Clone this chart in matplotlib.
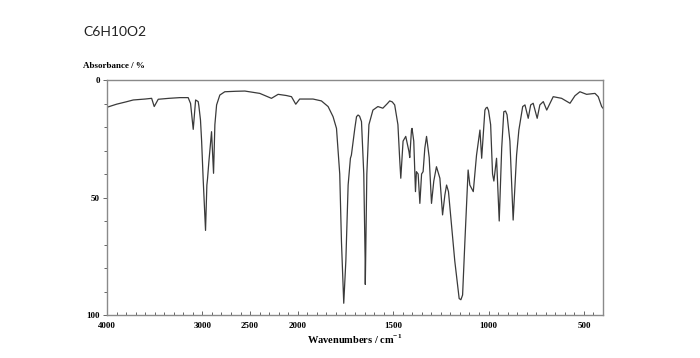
import numpy as np
import matplotlib
matplotlib.use('Agg')
import matplotlib.pyplot as plt
from matplotlib.ticker import FixedLocator, NullFormatter

title = 'C6H10O2'

# spectrum (wavenumber in cm-1, value in %)
wavenumber = [4000, 3900, 3800, 3725, 3600, 3532, 3505, 3463, 3350, 3236,
              3149, 3124, 3096, 3071, 3044, 3037, 3020, 3008, 2992, 2967,
              2953, 2946, 2932, 2904, 2883, 2869, 2851, 2817, 2765, 2650,
              2555, 2398, 2276, 2206, 2120, 2066, 2021, 1990, 1920, 1876,
              1841, 1815, 1797, 1780, 1771, 1759, 1748, 1736, 1724, 1719,
              1701, 1692, 1684, 1676, 1666, 1654, 1647, 1646, 1638, 1627,
              1606, 1580, 1554, 1530, 1518, 1505, 1492, 1475, 1466, 1460,
              1448, 1434, 1417, 1413, 1404, 1401, 1392, 1383, 1378, 1369,
              1360, 1351, 1343, 1334, 1325, 1311, 1299, 1287, 1273, 1255,
              1241, 1229, 1220, 1210, 1194, 1177, 1160, 1154, 1145, 1136,
              1124, 1107, 1098, 1080, 1063, 1045, 1036, 1019, 1013, 1007,
              1000, 989, 979, 972, 958, 944, 931, 920, 911, 903,
              888, 871, 853, 841, 821, 809, 792, 779, 766, 745,
              731, 713, 695, 661, 617, 573, 547, 521, 486, 442,
              425, 407, 400]
absorbance = [11.6, 10.3, 9.3, 8.5, 8.1, 7.8, 11.3, 8.2, 7.8, 7.5,
              7.5, 10.0, 21.0, 8.5, 9.2, 11.0, 17.0, 26.0, 42.0, 64.0,
              44.7, 42.0, 34.8, 22.0, 39.7, 19.0, 10.6, 6.4, 5.0, 4.8,
              4.7, 5.7, 7.8, 6.1, 6.6, 7.1, 10.3, 8.1, 8.1, 8.9,
              11.3, 15.6, 20.6, 40.0, 68.8, 95.0, 77.0, 44.7, 33.3, 32.0,
              20.6, 15.6, 14.9, 15.4, 17.7, 40.0, 76.0, 87.0, 40.0, 19.0,
              12.8, 11.3, 12.0, 10.0, 8.9, 9.3, 10.6, 19.0, 33.3, 41.8,
              26.0, 24.0, 30.5, 33.0, 21.3, 20.6, 26.0, 47.5, 39.0, 40.0,
              52.5, 40.0, 39.0, 29.0, 24.0, 33.0, 52.5, 43.0, 36.9, 41.8,
              57.4, 49.0, 44.7, 47.5, 62.0, 77.0, 89.0, 93.0, 93.5, 91.5,
              68.8, 38.3, 44.7, 47.5, 32.0, 21.3, 33.3, 12.8, 11.9, 11.6,
              13.0, 19.0, 40.0, 43.0, 33.3, 60.0, 29.0, 13.5, 13.2, 14.8,
              26.0, 59.6, 32.0, 21.3, 11.3, 10.6, 16.3, 10.6, 9.9, 16.3,
              10.6, 9.2, 12.8, 7.1, 7.8, 9.9, 6.7, 5.0, 6.1, 5.7,
              7.1, 11.3, 12.0]

major_ticks = [4000, 3000, 2500, 2000, 1500, 1000, 500]
y_ticks = [0, 50, 100]


# axis is compressed by 2 above 2000 cm-1
def fwd(x):
    x = np.asarray(x, dtype=float)
    return np.where(x > 2000, 2000 + (x - 2000) / 2, x)


def inv(f):
    f = np.asarray(f, dtype=float)
    return np.where(f > 2000, 2000 + (f - 2000) * 2, f)


plt.rcParams['mathtext.fontset'] = 'custom'
plt.rcParams['mathtext.rm'] = 'Liberation Serif'
plt.rcParams['mathtext.bf'] = 'Liberation Serif:bold'

fig = plt.figure(figsize=(7, 3.58), dpi=100)
ax = fig.add_axes([107 / 700, 1 - 315 / 358, 496 / 700, 235 / 358])

ax.plot(wavenumber, absorbance, color='#3a3a3a', lw=0.9)

ax.set_xscale('function', functions=(fwd, inv))
ax.set_xlim(4000, 400)
ax.set_ylim(100, 0)

minor_x = [v for v in list(range(4000, 2000, -100)) + list(range(2000, 400, -50))
           if v not in major_ticks]
ax.xaxis.set_major_locator(FixedLocator(major_ticks))
ax.xaxis.set_minor_locator(FixedLocator(minor_x))
ax.xaxis.set_minor_formatter(NullFormatter())
ax.yaxis.set_major_locator(FixedLocator(y_ticks))
ax.yaxis.set_minor_locator(FixedLocator(range(0, 101, 10)))

for s in ax.spines.values():
    s.set_color('#8a8a8a')
    s.set_linewidth(1.0)

ax.tick_params(axis='x', which='both', direction='in', color='#666666', width=0.7)
ax.tick_params(axis='x', which='major', length=3, pad=5)
ax.tick_params(axis='x', which='minor', length=2)
ax.tick_params(axis='y', which='both', direction='out', color='#666666', width=0.7)
ax.tick_params(axis='y', which='major', length=3, pad=2)
ax.tick_params(axis='y', which='minor', length=2)

for lab in ax.get_xticklabels() + ax.get_yticklabels():
    lab.set_family('Liberation Serif')
    lab.set_fontweight('bold')
    lab.set_fontsize(6.5)

ax.set_xlabel(r'Wavenumbers / cm$^{\mathbf{-1}}$', family='Liberation Serif',
              fontweight='bold', fontsize=7.5, labelpad=2)

fig.text(83 / 700, 1 - 66 / 358, 'Absorbance / %', family='Liberation Serif',
         fontweight='bold', fontsize=6.5, ha='left', va='center')
fig.text(83 / 700, 1 - 32 / 358, title, family='Lato', fontsize=10,
         ha='left', va='center', color='#222222')

fig.savefig('out.png', dpi=100)
